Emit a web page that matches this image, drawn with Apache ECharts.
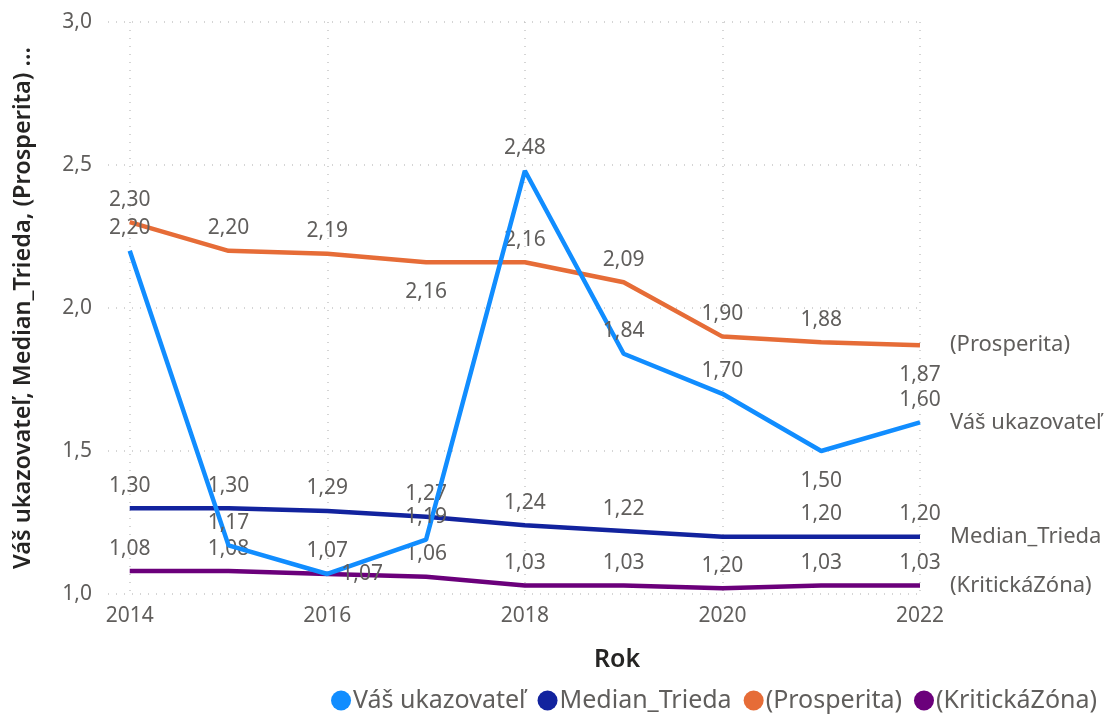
<!DOCTYPE html>
<html>
<head>
<meta charset="utf-8">
<script src="https://cdn.jsdelivr.net/npm/echarts@6/dist/echarts.min.js"></script>
<style>
  html, body { margin: 0; padding: 0; background: #fff; }
  #chart { width: 1108px; height: 721px; }
</style>
</head>
<body>
<div id="chart"></div>
<script>
const years = [2014, 2015, 2016, 2017, 2018, 2019, 2020, 2021, 2022];
const yearTicks = [2014, 2016, 2018, 2020, 2022];
const vas = [2.20, 1.17, 1.07, 1.19, 2.48, 1.84, 1.70, 1.50, 1.60];
const median = [1.30, 1.30, 1.29, 1.27, 1.24, 1.22, 1.20, 1.20, 1.20];
const prosperita = [2.30, 2.20, 2.19, 2.16, 2.16, 2.09, 1.90, 1.88, 1.87];
const kriticka = [1.08, 1.08, 1.07, 1.06, 1.03, 1.03, 1.02, 1.03, 1.03];

const names = ['Váš ukazovateľ', 'Median_Trieda', '(Prosperita)', '(KritickáZóna)'];
const colors = ['#118DFF', '#12239E', '#E66C37', '#6B007B'];

const labelColor = '#605E5C';
const font = '"Noto Sans", "Open Sans", sans-serif';
const fmt = v => v.toFixed(2).replace('.', ',');

// label placement tweaks (index into years)
const placement = [
    { bottom: [7], right: [2], hide: [] },
    { bottom: [6], right: [], hide: [] },
    { bottom: [3, 8], right: [], hide: [] },
    { bottom: [], right: [], hide: [6] }
];

function buildData(values, p) {
    return values.map((v, i) => {
        const item = { value: [years[i], v] };
        if (p.hide.includes(i)) {
            item.label = { show: false };
        } else if (p.bottom.includes(i)) {
            item.label = { position: 'bottom', distance: 19 };
        } else if (p.right.includes(i)) {
            item.label = { position: 'right', distance: 14, offset: [0, 6] };
        }
        return item;
    });
}

const chart = echarts.init(document.getElementById('chart'));

const series = [vas, median, prosperita, kriticka].map((vals, k) => ({
    name: names[k],
    type: 'line',
    data: buildData(vals, placement[k]),
    symbol: 'circle',
    symbolSize: 0.1,
    showSymbol: true,
    lineStyle: { width: 4.5, color: colors[k] },
    itemStyle: { color: colors[k] },
    label: {
        show: true,
        position: 'top',
        distance: 12,
        color: labelColor,
        fontFamily: font,
        fontSize: 21,
        formatter: p => fmt(p.value[1])
    },
    endLabel: {
        show: true,
        distance: 30,
        color: labelColor,
        fontFamily: font,
        fontSize: 22,
        formatter: p => p.seriesName
    },
    labelLayout: { hideOverlap: false },
    emphasis: { disabled: true },
    z: 10 - k
}));

chart.setOption({
    animation: false,
    textStyle: { fontFamily: font },
    title: {
        text: 'Rok',
        left: 612,
        top: 642,
        textAlign: 'center',
        textStyle: { color: '#252423', fontSize: 25, fontWeight: 600, fontFamily: font }
    },
    legend: {
        right: 6,
        bottom: 3,
        icon: 'circle',
        itemWidth: 20,
        itemHeight: 20,
        itemGap: 12,
        textStyle: { color: labelColor, fontSize: 25, fontFamily: font, padding: [0, 0, 0, -3] },
        data: names
    },
    grid: { left: 108, right: 188, top: 22, bottom: 127 },
    xAxis: {
        type: 'value',
        min: 2013.78,
        max: 2022,
        axisLine: { show: false },
        axisTick: { show: false, customValues: yearTicks },
        axisLabel: {
            customValues: yearTicks,
            color: labelColor,
            fontSize: 21,
            fontFamily: font,
            margin: 12,
            formatter: v => String(v)
        },
        splitLine: { show: true, lineStyle: { color: '#c8c8c8', type: [1, 7], width: 1.5 } }
    },
    yAxis: {
        type: 'value',
        min: 1,
        max: 3,
        interval: 0.5,
        name: 'Váš ukazovateľ, Median_Trieda, (Prosperita) …',
        nameLocation: 'middle',
        nameRotate: 90,
        nameGap: 73,
        nameTextStyle: { color: '#252423', fontSize: 23.5, fontWeight: 600, fontFamily: font },
        axisLine: { show: false },
        axisTick: { show: false },
        axisLabel: {
            color: labelColor,
            fontSize: 21,
            fontFamily: font,
            margin: 16,
            formatter: v => v.toFixed(1).replace('.', ',')
        },
        splitLine: { show: true, lineStyle: { color: '#c8c8c8', type: [1, 7], width: 1.5 } }
    },
    series: series
});
window.addEventListener('resize', chart.resize);
</script>
</body>
</html>
